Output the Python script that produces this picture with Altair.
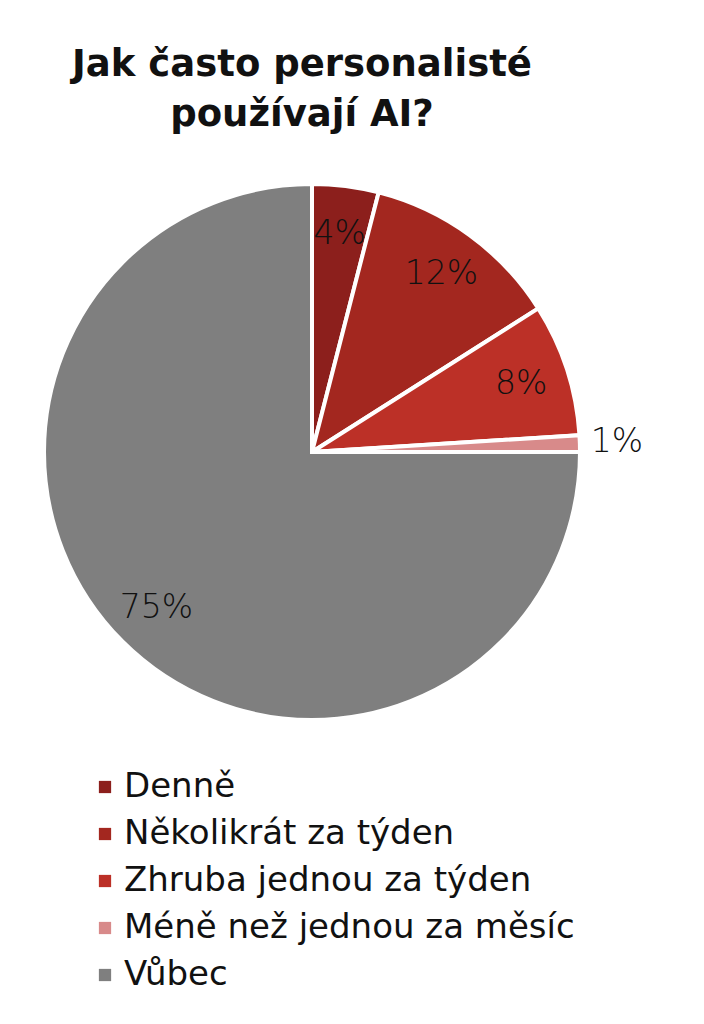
import altair as alt
import pandas as pd

categories = ["Denně", "Několikrát za týden", "Zhruba jednou za týden", "Méně než jednou za měsíc", "Vůbec"]
values = [4, 12, 8, 1, 75]
labels = ["4%", "12%", "8%", "1%", "75%"]
colors = ["#8C1F1C", "#A3271F", "#BC3027", "#D88A8A", "#7F7F7F"]

df = pd.DataFrame({
    "kategorie": categories,
    "hodnota": values,
    "popisek": labels,
    "poradi": list(range(len(categories))),
})

FONT = "DejaVu Sans"
theta_scale = alt.Scale(domain=[0, 100])

arcs = alt.Chart(df).mark_arc(outerRadius=268, stroke="white", strokeWidth=4).encode(
    theta=alt.Theta("hodnota:Q", stack=True, scale=theta_scale),
    order=alt.Order("poradi:Q"),
    x=alt.value(304),
    y=alt.value(444),
    color=alt.Color(
        "kategorie:N",
        scale=alt.Scale(domain=categories, range=colors),
        sort=categories,
        legend=alt.Legend(
            title=None,
            orient="none",
            legendX=80,
            legendY=762,
            symbolType="square",
            symbolSize=150,
            symbolStrokeWidth=0,
            labelFont=FONT,
            labelFontSize=34,
            labelColor="#111111",
            rowPadding=13,
            labelOffset=2,
            labelLimit=650,
        ),
    ),
)

texts = alt.Chart(df).transform_window(
    kum="sum(hodnota)", sort=[alt.SortField("poradi", order="ascending")]
).transform_calculate(
    stred="datum.kum - datum.hodnota / 2",
    r="datum.hodnota < 2 ? 305 : 220",
).mark_text(font=FONT, fontSize=33, fontWeight=300, color="#111111").encode(
    theta=alt.Theta("stred:Q", stack=None, scale=theta_scale),
    x=alt.value(304),
    y=alt.value(444),
    text="popisek:N",
    radius=alt.Radius("r:Q", scale=None),
)

chart = alt.layer(arcs, texts).properties(
    width=688,
    height=1000,
    autosize=alt.AutoSizeParams(type="none"),
    padding=0,
    title=alt.TitleParams(
        text=["Jak často personalisté", "používají AI?"],
        font=FONT,
        fontSize=37,
        fontWeight="bold",
        color="#111111",
        anchor="middle",
        dx=-50,
        dy=130,
        lineHeight=50,
    ),
).configure_view(stroke=None)

chart.save("out.html", embed_options={"renderer": "svg", "actions": False})
